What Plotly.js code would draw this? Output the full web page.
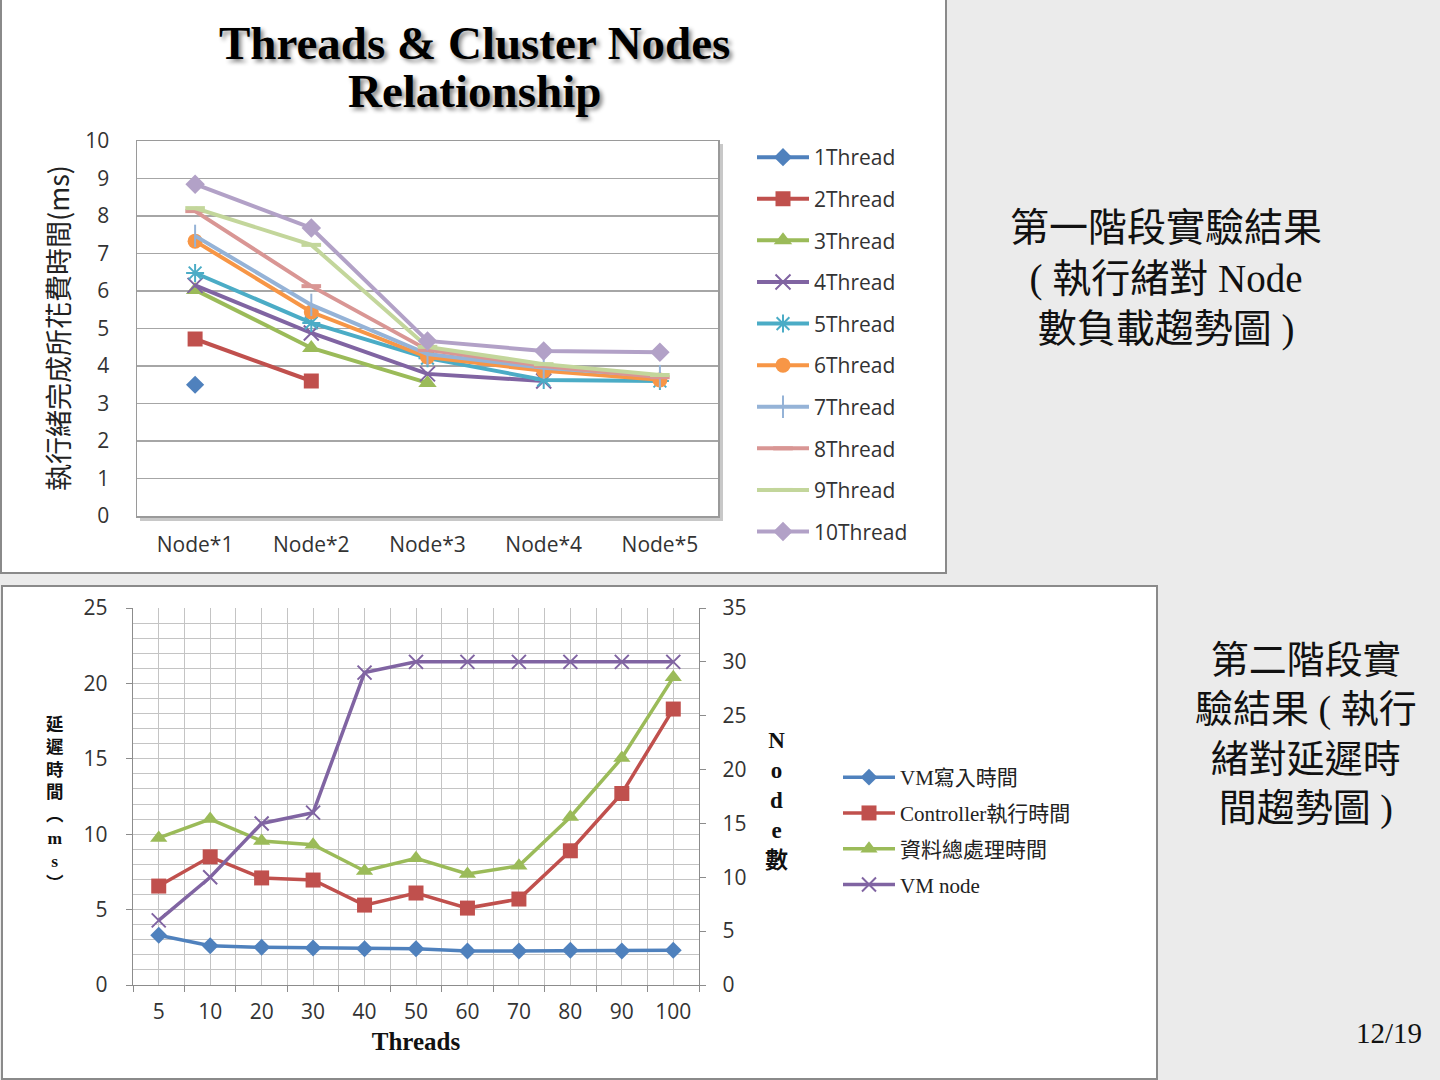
<!DOCTYPE html>
<html>
<head>
<meta charset="utf-8">
<script src="https://cdn.plot.ly/plotly-3.0.1.min.js"></script>
<style>
html,body{margin:0;padding:0;background:#ebebeb;}
#chart{width:1440px;height:1080px;}
</style>
</head>
<body>
<div id="chart"></div>
<script>
// ---------- Chart 1 data ----------
const nodeCats = ['Node*1','Node*2','Node*3','Node*4','Node*5'];
const thread1  = [3.5, null, null, null, null];
const thread2  = [4.72, 3.6, null, null, null];
const thread3  = [6.03, 4.48, 3.55, null, null];
const thread4  = [6.15, 4.88, 3.79, 3.6, null];
const thread5  = [6.48, 5.15, 4.21, 3.63, 3.6];
const thread6  = [7.33, 5.44, 4.24, 3.87, 3.63];
const thread7  = [7.47, 5.63, 4.32, 3.95, 3.73];
const thread8  = [8.13, 6.13, 4.43, 4.0, 3.7];
const thread9  = [8.21, 7.23, 4.51, 4.05, 3.76];
const thread10 = [8.85, 7.68, 4.67, 4.4, 4.37];
const threadNames = ['1Thread','2Thread','3Thread','4Thread','5Thread','6Thread','7Thread','8Thread','9Thread','10Thread'];

// ---------- Chart 2 data ----------
const threadCats = ['5','10','20','30','40','50','60','70','80','90','100'];
const vmWrite   = [3.3, 2.6, 2.5, 2.45, 2.4, 2.4, 2.25, 2.25, 2.3, 2.25, 2.3];
const ctrlExec  = [6.56, 8.5, 7.1, 6.96, 5.3, 6.1, 5.1, 5.7, 8.9, 12.7, 18.3];
const totalProc = [9.75, 11.0, 9.55, 9.3, 7.56, 8.4, 7.36, 7.9, 11.14, 15.05, 20.4];
const vmNode    = [6, 10, 15, 16, 29, 30, 30, 30, 30, 30, 30];
const series2Names = ['VM寫入時間', 'Controller執行時間', '資料總處理時間', 'VM node'];

// ---------- helpers ----------
const W = 1440, H = 1080;
const px = x => x / W;
const py = y => 1 - y / H;

const sansTick = '"Open Sans", Lato, "Noto Sans CJK TC", sans-serif';
const serif = '"Liberation Serif", "Noto Sans CJK TC", serif';
const cjk = '"Noto Sans CJK TC", "Liberation Sans", sans-serif';

const styles1 = [
  {color:'#4F81BD', symbol:'diamond', size:14},
  {color:'#C0504D', symbol:'square', size:15},
  {color:'#9BBB59', symbol:'triangle-up', size:16},
  {color:'#8064A2', symbol:'x-thin-open', size:15, lw:2},
  {color:'#4BACC6', symbol:'asterisk-open', size:15, lw:2},
  {color:'#F79646', symbol:'circle', size:15},
  {color:'#95B3D7', symbol:'line-ns-open', size:16, lw:2},
  {color:'#D99694', symbol:'line-ew-open', size:14, lw:4},
  {color:'#C3D69B', symbol:'line-ew-open', size:14, lw:4},
  {color:'#B2A1C7', symbol:'diamond', size:15}
];
const series1 = [thread1,thread2,thread3,thread4,thread5,thread6,thread7,thread8,thread9,thread10];

const traces = [];
series1.forEach((ys, i) => {
  const s = styles1[i];
  const m = {symbol:s.symbol, size:s.size, color:s.color};
  if (s.lw) m.line = {color:s.color, width:s.lw};
  traces.push({
    type:'scatter', mode:'lines+markers', x:nodeCats, y:ys, name:threadNames[i],
    xaxis:'x', yaxis:'y', legend:'legend', legendgroup:'g'+i,
    line:{color:s.color, width:4}, marker:m, connectgaps:false
  });
});

const idx = threadCats.map((_, i) => i);
const styles2 = [
  {color:'#4F81BD', symbol:'diamond', size:13},
  {color:'#C0504D', symbol:'square', size:15},
  {color:'#9BBB59', symbol:'triangle-up', size:15},
  {color:'#8064A2', symbol:'x-thin-open', size:14, lw:2}
];
[vmWrite, ctrlExec, totalProc, vmNode].forEach((ys, i) => {
  const s = styles2[i];
  const m = {symbol:s.symbol, size:s.size, color:s.color};
  if (s.lw) m.line = {color:s.color, width:s.lw};
  traces.push({
    type:'scatter', mode:'lines+markers', x:idx, y:ys, name:series2Names[i],
    xaxis:'x2', yaxis: i === 3 ? 'y3' : 'y2', legend:'legend2', legendgroup:'h'+i,
    line:{color:s.color, width:3.5}, marker:m
  });
});

const layout = {
  width:W, height:H,
  margin:{l:0, r:0, t:0, b:0},
  paper_bgcolor:'#ebebeb',
  plot_bgcolor:'rgba(0,0,0,0)',
  showlegend:true,
  // ---- chart 1 axes ----
  xaxis:{
    domain:[px(137), px(718)], anchor:'y', type:'category',
    range:[-0.5, 4.5], showgrid:false, zeroline:false,
    showline:true, mirror:true, linecolor:'#9a9a9a', linewidth:1.5,
    ticks:'', tickfont:{family:sansTick, size:21, color:'#333'},
    ticklabelstandoff:9, fixedrange:true
  },
  yaxis:{
    domain:[py(516), py(141)], anchor:'x', range:[0, 10], dtick:1,
    showgrid:true, gridcolor:'#a6a6a6', gridwidth:1.2, zeroline:false,
    showline:true, mirror:true, linecolor:'#9a9a9a', linewidth:1.5,
    ticks:'', tickfont:{family:sansTick, size:21, color:'#333'},
    ticklabelstandoff:22, fixedrange:true
  },
  // ---- chart 2 axes ----
  xaxis2:{
    domain:[px(133), px(699)], anchor:'y2', type:'linear',
    range:[-0.5, 10.5], tickmode:'array', tickvals:idx, ticktext:threadCats,
    showgrid:true, gridcolor:'#c4c4c4', gridwidth:1, zeroline:false,
    showline:true, linecolor:'#8c8c8c', linewidth:1.2, ticks:'',
    minor:{tickmode:'linear', tick0:-0.5, dtick:1, showgrid:true, gridcolor:'#c4c4c4', gridwidth:1, ticks:'outside', ticklen:6, tickcolor:'#8c8c8c'},
    tickfont:{family:sansTick, size:21, color:'#333'},
    ticklabelstandoff:8,
    title:{text:'Threads', font:{family:serif, size:25, color:'#111', weight:'bold'}, standoff:8},
    fixedrange:true
  },
  yaxis2:{
    domain:[py(985), py(608)], anchor:'x2', range:[0, 25], dtick:5,
    showgrid:true, gridcolor:'#c4c4c4', gridwidth:1, zeroline:false,
    showline:true, linecolor:'#8c8c8c', linewidth:1.2,
    ticks:'outside', ticklen:6, tickcolor:'#8c8c8c',
    minor:{dtick:1, showgrid:true, gridcolor:'#c4c4c4', gridwidth:1},
    tickfont:{family:sansTick, size:21, color:'#333'},
    ticklabelstandoff:14, fixedrange:true
  },
  yaxis3:{
    overlaying:'y2', side:'right', anchor:'x2', range:[0, 35], dtick:5,
    showgrid:false, zeroline:false, showline:true, linecolor:'#8c8c8c', linewidth:1.2,
    ticks:'outside', ticklen:6, tickcolor:'#8c8c8c',
    tickfont:{family:sansTick, size:21, color:'#333'},
    ticklabelstandoff:12, fixedrange:true
  },
  legend:{
    x:px(752), y:py(137), xanchor:'left', yanchor:'top',
    bgcolor:'rgba(0,0,0,0)', borderwidth:0,
    font:{family:sansTick, size:21, color:'#333'},
    itemwidth:52, tracegroupgap:11.3, traceorder:'grouped', itemclick:false
  },
  legend2:{
    x:px(838), y:py(757), xanchor:'left', yanchor:'top',
    bgcolor:'rgba(0,0,0,0)', borderwidth:0,
    font:{family:serif, size:21, color:'#222'},
    itemwidth:52, tracegroupgap:5.5, traceorder:'grouped', itemclick:false
  },
  shapes:[
    // chart boxes
    {type:'rect', xref:'paper', yref:'paper', x0:px(1), x1:px(946), y0:py(573), y1:py(-2),
     fillcolor:'#ffffff', line:{color:'#8a8a8a', width:2}, layer:'below'},
    {type:'rect', xref:'paper', yref:'paper', x0:px(2), x1:px(1157), y0:py(1079), y1:py(586),
     fillcolor:'#ffffff', line:{color:'#8a8a8a', width:2}, layer:'below'},
    // chart 1 plot area shadow
    {type:'rect', xref:'paper', yref:'paper', x0:px(140), x1:px(723), y0:py(521), y1:py(144),
     fillcolor:'#c8c8c8', line:{width:0}, layer:'below'},
    {type:'rect', xref:'paper', yref:'paper', x0:px(137), x1:px(718), y0:py(516), y1:py(141),
     fillcolor:'#ffffff', line:{width:0}, layer:'below'}
  ],
  annotations:[
    {xref:'paper', yref:'paper', x:px(474), y:py(43), xanchor:'center', yanchor:'middle',
     text:'Threads &amp; Cluster Nodes', showarrow:false,
     font:{family:serif, size:47, color:'#000', weight:'bold', shadow:'3px 3px 4px #8a8a8a'}},
    {xref:'paper', yref:'paper', x:px(474), y:py(91), xanchor:'center', yanchor:'middle',
     text:'Relationship', showarrow:false,
     font:{family:serif, size:47, color:'#000', weight:'bold', shadow:'3px 3px 4px #8a8a8a'}},
    {xref:'paper', yref:'paper', x:px(57), y:py(328), xanchor:'center', yanchor:'middle',
     text:'執行緒完成所花費時間(ms)', textangle:-90, showarrow:false,
     font:{family:cjk, size:27, color:'#222'}},
    {xref:'paper', yref:'paper', x:px(55), y:py(803), xanchor:'center', yanchor:'middle',
     text:'延<br>遲<br>時<br>間<br>︵<br>m<br>s<br>︶', showarrow:false,
     font:{family:serif, size:17.5, color:'#111', weight:'bold'}},
    {xref:'paper', yref:'paper', x:px(776), y:py(800), xanchor:'center', yanchor:'middle',
     text:'N<br>o<br>d<br>e<br>數', showarrow:false,
     font:{family:serif, size:23, color:'#111', weight:'bold'}},
    {xref:'paper', yref:'paper', x:px(1166), y:py(279), xanchor:'center', yanchor:'middle',
     text:'第一階段實驗結果<br>( 執行緒對 Node<br>數負載趨勢圖 )', showarrow:false,
     font:{family:serif, size:39, color:'#111'}},
    {xref:'paper', yref:'paper', x:px(1306), y:py(734), xanchor:'center', yanchor:'middle',
     text:'第二階段實<br>驗結果 ( 執行<br>緒對延遲時<br>間趨勢圖 )', showarrow:false,
     font:{family:serif, size:38, color:'#111'}},
    {xref:'paper', yref:'paper', x:px(1389), y:py(1033), xanchor:'center', yanchor:'middle',
     text:'12/19', showarrow:false,
     font:{family:serif, size:29, color:'#111'}}
  ]
};

Plotly.newPlot('chart', traces, layout, {displayModeBar:false, staticPlot:true});
</script>
</body>
</html>
